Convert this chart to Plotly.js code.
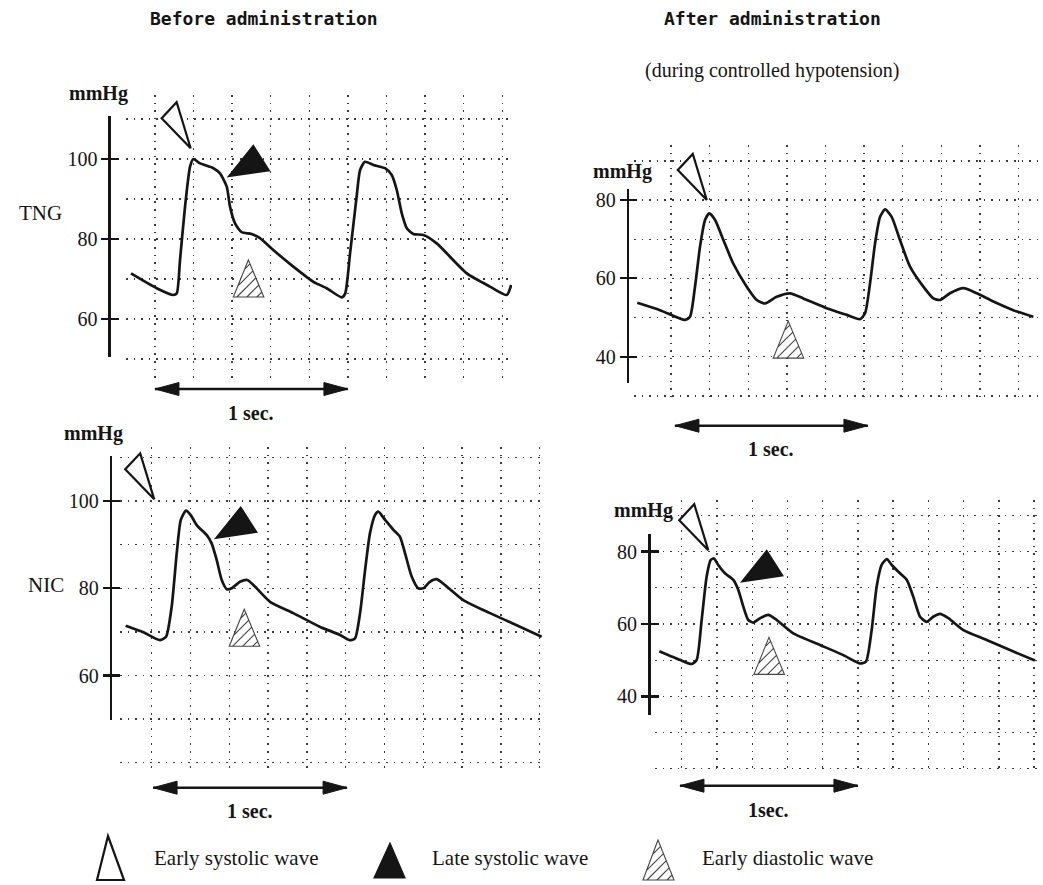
<!DOCTYPE html>
<html>
<head>
<meta charset="utf-8">
<script src="https://cdn.plot.ly/plotly-3.0.1.min.js"></script>
<style>html,body{margin:0;padding:0;background:#fff}#chart{width:1043px;height:885px}</style>
</head>
<body>
<div id="chart"></div>
<script>
// ---------------- DATA ----------------
// Time (s) from start of each trace, pressure (mmHg)
const tngBeforeTime = [0, 0.133, 0.219, 0.237, 0.254, 0.28, 0.306, 0.323, 0.358, 0.427, 0.461, 0.496, 0.513, 0.539, 0.573, 0.625, 0.668, 0.737, 0.841, 0.945, 1.014, 1.092, 1.11, 1.135, 1.169, 1.187, 1.212, 1.256, 1.316, 1.351, 1.377, 1.403, 1.429, 1.463, 1.515, 1.584, 1.74, 1.86, 1.947, 1.97];
const tngBeforeP = [71.4, 67.7, 66, 66.4, 74.75, 88.1, 98.1, 100, 98.9, 97.7, 96.4, 93.1, 88.1, 83.9, 81.7, 81.25, 80.2, 77.25, 73.1, 69.3, 67.7, 65.4, 66.4, 76.4, 90.6, 97.25, 99.3, 98.5, 97.7, 96, 92.25, 86.4, 82.7, 81.25, 81, 78.9, 71.4, 68.1, 66, 68.5];

const tngAfterTime = [0, 0.118, 0.247, 0.273, 0.299, 0.325, 0.351, 0.373, 0.403, 0.446, 0.497, 0.567, 0.619, 0.662, 0.722, 0.791, 0.86, 0.981, 1.085, 1.154, 1.18, 1.206, 1.232, 1.258, 1.284, 1.318, 1.361, 1.413, 1.482, 1.534, 1.569, 1.62, 1.69, 1.759, 1.845, 1.948, 2.052];
const tngAfterP = [53.8, 51.9, 49.4, 50.2, 57.9, 68.1, 74.9, 76.6, 74.9, 69.8, 63.8, 57.9, 54.5, 53.6, 55.3, 56.2, 54.9, 52.4, 50.7, 49.6, 51.1, 58.8, 68.95, 75.7, 77.6, 75.7, 69.8, 63, 57.9, 54.9, 54.5, 56.2, 57.5, 56.2, 54.1, 51.9, 50.2];

const nicBeforeTime = [0, 0.091, 0.177, 0.208, 0.237, 0.263, 0.284, 0.311, 0.335, 0.366, 0.418, 0.443, 0.469, 0.495, 0.521, 0.546, 0.589, 0.627, 0.666, 0.744, 0.864, 1.0, 1.105, 1.156, 1.182, 1.208, 1.234, 1.259, 1.285, 1.302, 1.337, 1.38, 1.414, 1.44, 1.474, 1.508, 1.534, 1.568, 1.603, 1.655, 1.74, 1.878, 2.032, 2.144];
const nicBeforeP = [71.4, 69.9, 68.1, 68.9, 75.8, 88.0, 95.7, 97.8, 96.8, 94.5, 92.2, 90.3, 86.5, 81.9, 79.8, 80, 81.5, 81.9, 80.4, 76.9, 74.3, 71.2, 69.3, 68.1, 68.5, 74.3, 84.2, 92.6, 96.8, 97.6, 95.7, 93.4, 91.8, 88.0, 82.7, 80, 80, 81.5, 82.1, 80.4, 77.3, 74.3, 71.2, 68.9];

const nicAfterTime = [0, 0.116, 0.182, 0.21, 0.238, 0.266, 0.289, 0.307, 0.331, 0.369, 0.416, 0.444, 0.472, 0.5, 0.528, 0.566, 0.612, 0.66, 0.753, 0.903, 1.034, 1.128, 1.161, 1.193, 1.221, 1.249, 1.278, 1.306, 1.352, 1.39, 1.427, 1.465, 1.502, 1.539, 1.577, 1.624, 1.708, 1.839, 1.97, 2.11];
const nicAfterP = [52.5, 50.1, 48.95, 50.1, 61.1, 73.1, 77.7, 78.1, 76.3, 74.0, 72.2, 69.4, 64.8, 61.1, 60.4, 61.6, 62.5, 61.1, 57.4, 54.2, 51.4, 49.1, 49.6, 58.3, 70.3, 76.3, 77.9, 76.3, 74, 72.2, 67.5, 62.0, 60.6, 62.0, 62.8, 61.6, 58.3, 55.6, 52.8, 49.9];

// Tick labels (mmHg)
const beforeTicks = [60, 80, 100];
const afterTicks = [40, 60, 80];

// Wave markers (time, pressure) per panel: TNG before, TNG after, NIC before, NIC after
const earlySystolicT = [0.309, 0.36, 0.147, 0.275];
const earlySystolicP = [102.7, 80, 100.4, 80.4];
const lateSystolicT = [0.504, null, 0.464, 0.463];
const lateSystolicP = [95.6, null, 91.5, 71.7];
const earlyDiastolicT = [0.608, 0.782, 0.611, 0.616];
const earlyDiastolicP = [74.75, 49.1, 75.2, 56.3];

// 1-second scale bar start (s) per panel
const scaleStart = [0.124, 0.195, 0.141, 0.116];
const scaleLength = 1;
const scaleLabels = ['1 sec.', '1 sec.', '1 sec.', '1sec.'];

const rowLabels = ['TNG', 'NIC'];
const colTitles = ['Before administration', 'After administration'];
const subTitle = '(during controlled hypotension)';
const legendLabels = ['Early systolic wave', 'Late systolic wave', 'Early diastolic wave'];

// ---------------- GEOMETRY (page pixels) ----------------
const W = 1043, H = 885;
const panels = [
  {t: tngBeforeTime, p: tngBeforeP, ticks: beforeTicks,
   t0px: 131, sx: 193, vref: 100, pyref: 159, sy: 4.0,
   L: 126, R: 512, T: 95, B: 380, gtick0: 0.124, gdt: 0.2,
   axX: 111, axT: 116, axB: 357, barY: 389, lblY: 413, mm: [98, 94]},
  {t: tngAfterTime, p: tngAfterP, ticks: afterTicks,
   t0px: 637.3, sx: 193, vref: 80, pyref: 200, sy: 3.92,
   L: 634, R: 1040, T: 145, B: 400, gtick0: 0.175, gdt: 0.2,
   axX: 629.3, axT: 189, axB: 383, barY: 425.7, lblY: 449, mm: [622, 171]},
  {t: nicBeforeTime, p: nicBeforeP, ticks: beforeTicks,
   t0px: 125.7, sx: 194, vref: 80, pyref: 588.3, sy: 4.36,
   L: 120, R: 545, T: 447, B: 772, gtick0: 0.134, gdt: 0.2,
   axX: 112.3, axT: 456, axB: 720, barY: 787.7, lblY: 811, mm: [93, 434]},
  {t: nicAfterTime, p: nicAfterP, ticks: afterTicks,
   t0px: 659.3, sx: 178, vref: 60, pyref: 624, sy: 3.62,
   L: 655, R: 1040, T: 500, B: 770, gtick0: 0.126, gdt: 0.198,
   axX: 650.7, axT: 534, axB: 715, barY: 785.7, lblY: 810, mm: [643, 511]}
];

const SERIF = 'Liberation Serif, Times New Roman, serif';
const MONO = 'DejaVu Sans Mono, Liberation Mono, monospace';
const INK = '#151515';

function axName(n, c) { return c + (n === 1 ? '' : n); }
function layKey(n, c) { return c + 'axis' + (n === 1 ? '' : n); }
function fx(px) { return px / W; }
function fy(py) { return 1 - py / H; }

function triPath(v) {
  return 'M' + v.map(p => p[0].toFixed(1) + ',' + p[1].toFixed(1)).join('L') + 'Z';
}
function hatchPath(verts, step) {
  const k = verts.map(v => v[1] - v[0]);
  const cmin = Math.min(...k), cmax = Math.max(...k);
  let s = '';
  for (let c = cmin + step * 0.7; c < cmax - 1; c += step) {
    const pts = [];
    for (let i = 0; i < verts.length; i++) {
      const a = verts[i], b = verts[(i + 1) % verts.length];
      const ka = a[1] - a[0], kb = b[1] - b[0];
      if (ka === kb) continue;
      const u = (c - ka) / (kb - ka);
      if (u >= 0 && u <= 1) pts.push([a[0] + u * (b[0] - a[0]), a[1] + u * (b[1] - a[1])]);
    }
    if (pts.length >= 2) {
      pts.sort((P, Q) => P[0] - Q[0]);
      const P = pts[0], Q = pts[pts.length - 1];
      s += 'M' + P[0].toFixed(1) + ',' + P[1].toFixed(1) + 'L' + Q[0].toFixed(1) + ',' + Q[1].toFixed(1);
    }
  }
  return s;
}

// triangle templates (pixel offsets, y up, tip/apex at 0,0)
const openTri = [[0, 0], [-29, 30], [-14, 46]];
const fillTri = [[0, 0], [25, 31], [41, 6]];
const hatchTri = [[0, 0], [-15, -37], [15.5, -37]];

const data = [];
const layout = {
  width: W, height: H,
  margin: {l: 0, r: 0, t: 0, b: 0},
  paper_bgcolor: '#ffffff',
  plot_bgcolor: 'rgba(0,0,0,0)',
  showlegend: false,
  hovermode: false,
  shapes: [],
  annotations: []
};

panels.forEach((g, i) => {
  const nd = 3 * i + 1, ns = 3 * i + 2, no = 3 * i + 3;
  const xd = axName(nd, 'x'), yd = axName(nd, 'y');
  const xs = axName(ns, 'x'), ys = axName(ns, 'y');

  // data subplot (grid + waveform)
  layout[layKey(nd, 'x')] = {
    domain: [fx(g.L), fx(g.R)],
    range: [(g.L - g.t0px) / g.sx, (g.R - g.t0px) / g.sx],
    anchor: yd, showgrid: true, gridcolor: '#3a3a3a', gridwidth: 1.4, griddash: '1.6px,6px',
    tick0: g.gtick0, dtick: g.gdt, zeroline: false, showline: false,
    showticklabels: false, ticks: '', fixedrange: true
  };
  layout[layKey(nd, 'y')] = {
    domain: [fy(g.B), fy(g.T)],
    range: [g.vref - (g.B - g.pyref) / g.sy, g.vref + (g.pyref - g.T) / g.sy],
    anchor: xd, showgrid: true, gridcolor: '#3a3a3a', gridwidth: 1.4, griddash: '1.6px,6px',
    tick0: 0, dtick: 10, zeroline: false, showline: false,
    showticklabels: false, ticks: '', fixedrange: true
  };
  data.push({
    type: 'scatter', mode: 'lines', x: g.t, y: g.p, xaxis: xd, yaxis: yd,
    line: {color: INK, width: 2.7, shape: 'spline', smoothing: 0.6}
  });

  // display axis (vertical line with crossing ticks)
  const yRange = [g.vref - (g.axB - g.pyref) / g.sy, g.vref + (g.pyref - g.axT) / g.sy];
  layout[layKey(ns, 'x')] = {
    domain: [fx(g.axX), fx(g.axX + 1)], range: [0, 1], anchor: ys,
    visible: false, fixedrange: true
  };
  layout[layKey(ns, 'y')] = {
    domain: [fy(g.axB), fy(g.axT)], range: yRange,
    anchor: xs, side: 'left', tickvals: g.ticks, ticktext: g.ticks.map(String),
    showline: true, linecolor: INK, linewidth: 2.6,
    ticks: 'outside', ticklen: 7, tickwidth: 2.2, tickcolor: INK,
    showgrid: false, zeroline: false, fixedrange: true,
    tickfont: {family: SERIF, size: 20, color: INK}
  };
  layout[layKey(no, 'y')] = {
    overlaying: ys, anchor: xs, side: 'left', range: yRange, tickvals: g.ticks,
    showticklabels: false, showline: false, ticks: 'inside', ticklen: 8, tickwidth: 2.2,
    tickcolor: INK, showgrid: false, zeroline: false, fixedrange: true
  };
  data.push({type: 'scatter', mode: 'lines', x: [], y: [], xaxis: xs, yaxis: ys});
  data.push({type: 'scatter', mode: 'lines', x: [], y: [], xaxis: xs, yaxis: axName(no, 'y')});

  // wave markers
  layout.shapes.push({
    type: 'path', xref: xd, yref: yd, xsizemode: 'pixel', ysizemode: 'pixel',
    xanchor: earlySystolicT[i], yanchor: earlySystolicP[i], path: triPath(openTri),
    fillcolor: '#ffffff', line: {color: INK, width: 2.2}, layer: 'above'
  });
  if (lateSystolicT[i] !== null) {
    layout.shapes.push({
      type: 'path', xref: xd, yref: yd, xsizemode: 'pixel', ysizemode: 'pixel',
      xanchor: lateSystolicT[i], yanchor: lateSystolicP[i], path: triPath(fillTri),
      fillcolor: INK, line: {color: INK, width: 1.5}, layer: 'above'
    });
  }
  layout.shapes.push({
    type: 'path', xref: xd, yref: yd, xsizemode: 'pixel', ysizemode: 'pixel',
    xanchor: earlyDiastolicT[i], yanchor: earlyDiastolicP[i],
    path: triPath(hatchTri) + hatchPath(hatchTri, 10),
    fillcolor: '#ffffff', line: {color: '#444', width: 1.1}, layer: 'above'
  });

  // 1-second scale bar
  const by = fy(g.barY);
  const s0 = scaleStart[i], s1 = scaleStart[i] + scaleLength;
  layout.shapes.push({type: 'line', xref: xd, yref: 'paper', x0: s0, x1: s1, y0: by, y1: by,
    line: {color: INK, width: 2.4}});
  layout.shapes.push({type: 'path', xref: xd, yref: 'paper', xsizemode: 'pixel', ysizemode: 'pixel',
    xanchor: s0, yanchor: by, path: 'M0,0L24,6.5L24,-6.5Z', fillcolor: INK, line: {color: INK, width: 1}});
  layout.shapes.push({type: 'path', xref: xd, yref: 'paper', xsizemode: 'pixel', ysizemode: 'pixel',
    xanchor: s1, yanchor: by, path: 'M0,0L-24,6.5L-24,-6.5Z', fillcolor: INK, line: {color: INK, width: 1}});
  layout.annotations.push({text: '<b>' + scaleLabels[i] + '</b>', xref: xd, yref: 'paper',
    x: (s0 + s1) / 2, y: fy(g.lblY), xanchor: 'center', yanchor: 'middle', showarrow: false,
    font: {family: SERIF, size: 20, color: INK}});

  // mmHg label
  layout.annotations.push({text: '<b>mmHg</b>', xref: 'paper', yref: 'paper',
    x: fx(g.mm[0]), y: fy(g.mm[1]), xanchor: 'center', yanchor: 'middle', showarrow: false,
    font: {family: SERIF, size: 20, color: INK}});
});

// titles
layout.annotations.push({text: '<b>' + colTitles[0] + '</b>', xref: 'paper', yref: 'paper',
  x: fx(148), y: fy(19), xanchor: 'left', yanchor: 'middle', showarrow: false,
  font: {family: MONO, size: 18, color: INK}});
layout.annotations.push({text: '<b>' + colTitles[1] + '</b>', xref: 'paper', yref: 'paper',
  x: fx(772), y: fy(19), xanchor: 'center', yanchor: 'middle', showarrow: false,
  font: {family: MONO, size: 18, color: INK}});
layout.annotations.push({text: subTitle, xref: 'paper', yref: 'paper',
  x: fx(772), y: fy(70), xanchor: 'center', yanchor: 'middle', showarrow: false,
  font: {family: SERIF, size: 20, color: INK}});
// row labels
layout.annotations.push({text: rowLabels[0], xref: 'paper', yref: 'paper',
  x: fx(64), y: fy(213), xanchor: 'right', yanchor: 'middle', showarrow: false,
  font: {family: SERIF, size: 21, color: INK}});
layout.annotations.push({text: rowLabels[1], xref: 'paper', yref: 'paper',
  x: fx(66), y: fy(585), xanchor: 'right', yanchor: 'middle', showarrow: false,
  font: {family: SERIF, size: 21, color: INK}});

// legend
const legendTri = [
  {x: 108, y: 836, path: triPath([[0, 0], [-11, -44], [16, -44]]), fill: '#ffffff', lw: 2.2, lc: INK},
  {x: 390, y: 843, path: triPath([[0, 0], [-16, -35], [15, -35]]), fill: INK, lw: 1.2, lc: INK},
  {x: 658, y: 840, path: triPath([[0, 0], [-15, -40], [16, -40]]) + hatchPath([[0, 0], [-15, -40], [16, -40]], 10), fill: '#ffffff', lw: 1.1, lc: '#444'}
];
const legendTextX = [152, 430, 700];
legendTri.forEach((t, k) => {
  layout.shapes.push({type: 'path', xref: 'paper', yref: 'paper', xsizemode: 'pixel', ysizemode: 'pixel',
    xanchor: fx(t.x), yanchor: fy(t.y), path: t.path, fillcolor: t.fill, line: {color: t.lc, width: t.lw}});
  layout.annotations.push({text: legendLabels[k], xref: 'paper', yref: 'paper',
    x: fx(legendTextX[k]), y: fy(858), xanchor: 'left', yanchor: 'middle', showarrow: false,
    font: {family: SERIF, size: 21, color: INK}});
});

Plotly.newPlot('chart', data, layout, {staticPlot: true, displayModeBar: false});
</script>
</body>
</html>
